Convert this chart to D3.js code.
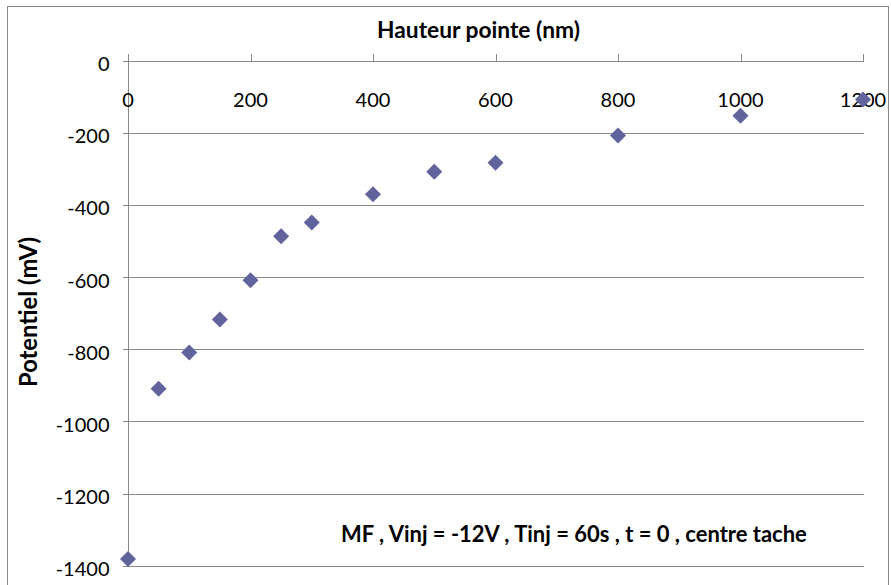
<!DOCTYPE html>
<html>
<head>
<meta charset="utf-8">
<script src="https://cdn.jsdelivr.net/npm/d3@7"></script>
<style>
html, body { margin: 0; padding: 0; background: #fff; }
svg { display: block; }
text { font-family: Lato, "Open Sans", sans-serif; fill: #000; }
</style>
</head>
<body>
<svg id="chart" width="891" height="585"></svg>
<script>
// Data
const hauteur = [0, 50, 100, 150, 200, 250, 300, 400, 500, 600, 800, 1000, 1200];
const potentiel = [-1382, -909, -809, -717, -608, -486, -448, -370, -307, -282, -207, -152, -107];
const xTicks = [0, 200, 400, 600, 800, 1000, 1200];
const yTicks = [0, -200, -400, -600, -800, -1000, -1200, -1400];
const xTitle = "Hauteur pointe (nm)";
const yTitle = "Potentiel (mV)";
const note = "MF , Vinj = -12V , Tinj = 60s , t = 0 , centre tache";

const svg = d3.select("#chart");
const grid = "#888888";
const markColor = "#62639C";

// outer chart border
svg.append("rect")
  .attr("x", 7.5).attr("y", 6.5)
  .attr("width", 881).attr("height", 600)
  .attr("fill", "#fff").attr("stroke", grid).attr("stroke-width", 1);

const x = d3.scaleLinear().domain([0, 1200]).range([128, 863]);
const y = d3.scaleLinear().domain([-1400, 0]).range([565.6, 61]);

// horizontal gridlines + y ticks
const yAxis = d3.axisLeft(y).tickValues(yTicks).tickSize(6).tickFormat(d3.format("d"));
const gY = svg.append("g").attr("transform", "translate(128.5,0)").call(yAxis);
gY.select(".domain").remove();
gY.selectAll(".tick line").attr("x2", 863 - 128).attr("x1", -6)
  .attr("stroke", grid).attr("shape-rendering", "crispEdges");
gY.selectAll(".tick text").remove();

// y tick labels
svg.append("g").selectAll("text").data(yTicks).join("text")
  .attr("x", 109.5).attr("y", d => y(d) + 10.3)
  .attr("text-anchor", "end")
  .style("font-size", "20px")
  .text(d => d3.format("d")(d).replace("−", "-"));

// vertical y axis line
svg.append("line")
  .attr("x1", x(0) + 0.5).attr("x2", x(0) + 0.5)
  .attr("y1", y(0)).attr("y2", y(-1400))
  .attr("stroke", grid).attr("shape-rendering", "crispEdges");

// x axis ticks (upward at y = 0)
const xAxis = d3.axisTop(x).tickValues(xTicks).tickSize(8).tickFormat("");
const gX = svg.append("g").attr("transform", `translate(0,${Math.round(y(0)) + 0.5})`).call(xAxis);
gX.select(".domain").remove();
gX.selectAll(".tick line").attr("stroke", grid).attr("shape-rendering", "crispEdges");

// x tick labels (below axis, inside plot)
svg.append("g").selectAll("text").data(xTicks).join("text")
  .attr("x", d => x(d)).attr("y", 107)
  .attr("text-anchor", "middle")
  .style("font-size", "20px")
  .text(d => d);

// markers (diamonds)
const diamond = d3.symbol().type(d3.symbolSquare).size(128);
svg.append("g").selectAll("path").data(hauteur.map((h, i) => [h, potentiel[i]])).join("path")
  .attr("d", diamond)
  .attr("transform", d => `translate(${x(d[0])},${y(d[1])}) rotate(45)`)
  .attr("fill", markColor);

// fit a bold text to a target width by adjusting font size
function fitSize(sel, target) {
  const w = sel.node().getComputedTextLength();
  const s = 20 * target / w;
  sel.style("font-size", s.toFixed(2) + "px");
}

// axis titles
const tX = svg.append("text")
  .attr("x", 478.5).attr("y", 38)
  .attr("text-anchor", "middle")
  .style("font-size", "20px").style("font-weight", "bold")
  .text(xTitle);
fitSize(tX, 203);

const tY = svg.append("text")
  .attr("transform", "translate(37,312) rotate(-90)")
  .attr("text-anchor", "middle")
  .style("font-size", "20px").style("font-weight", "bold")
  .text(yTitle);
fitSize(tY, 150);

// annotation
const tN = svg.append("text")
  .attr("x", 341).attr("y", 541.5)
  .attr("text-anchor", "start")
  .style("font-size", "20px").style("font-weight", "bold")
  .text(note);
fitSize(tN, 466);
</script>
</body>
</html>
